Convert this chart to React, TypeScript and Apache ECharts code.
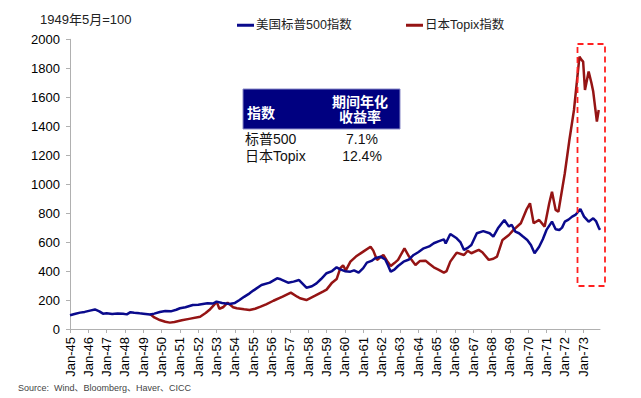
import React, { useEffect, useRef } from "react";
import * as echarts from "echarts";

// US S&P 500 (May 1949 = 100)
const usX = [
  1945.0, 1945.3, 1945.55, 1945.8, 1946.09, 1946.36, 1946.6, 1946.8, 1947.0, 1947.3, 1947.6, 1947.9,
  1948.1, 1948.3, 1948.5, 1948.8, 1949.0, 1949.37, 1949.6, 1949.9, 1950.2, 1950.5, 1950.8, 1951.0,
  1951.3, 1951.7, 1952.0, 1952.5, 1952.8, 1953.0, 1953.3, 1953.7, 1954.0, 1954.25, 1954.5, 1954.8,
  1955.0, 1955.45, 1955.9, 1956.3, 1956.5, 1956.9, 1957.2, 1957.5, 1957.9, 1958.2, 1958.45, 1958.7,
  1959.0, 1959.3, 1959.55, 1959.75, 1960.0, 1960.3, 1960.5, 1960.75, 1961.0, 1961.2, 1961.45, 1961.65,
  1961.95, 1962.2, 1962.35, 1962.5, 1962.7, 1962.9, 1963.2, 1963.5, 1963.75, 1964.0, 1964.3, 1964.6,
  1964.85, 1965.1, 1965.4, 1965.5, 1965.75, 1966.1, 1966.3, 1966.5, 1966.7, 1966.9, 1967.2, 1967.55,
  1967.9, 1968.1, 1968.35, 1968.7, 1968.95, 1969.1, 1969.3, 1969.5, 1969.7, 1969.95, 1970.15, 1970.35,
  1970.6, 1970.8, 1971.0, 1971.3, 1971.5, 1971.7, 1971.85, 1972.0, 1972.2, 1972.4, 1972.6, 1972.85,
  1973.05, 1973.3, 1973.55, 1973.7, 1973.85, 1973.92,
];
const usY = [
  95, 105, 113, 118, 127, 135, 122, 106, 108, 104, 107, 105,
  101, 116, 112, 108, 106, 100, 106, 117, 124, 122, 133, 143,
  150, 166, 168, 177, 176, 189, 180, 173, 180, 200, 222, 246,
  265, 304, 320, 350, 343, 320, 327, 338, 285, 295, 315, 345,
  385, 400, 426, 412, 399, 396, 405, 389, 420, 458, 470, 488,
  500, 480, 440, 396, 410, 435, 465, 480, 511, 530, 557, 570,
  592, 605, 619, 590, 656, 626, 600, 546, 560, 580, 661, 676,
  661, 638, 695, 753, 707, 720, 672, 661, 640, 615, 580, 523,
  568, 620, 684, 741, 689, 684, 700, 741, 755, 776, 790, 829,
  776, 741, 764, 745, 700, 684,
];

// Japan Topix (May 1949 = 100)
const jpX = [
  1949.37, 1949.6, 1949.9, 1950.2, 1950.45, 1950.7, 1951.1, 1951.5, 1952.1, 1952.4, 1952.6, 1952.85,
  1953.0, 1953.15, 1953.35, 1953.6, 1953.9, 1954.1, 1954.5, 1954.8, 1955.1, 1955.4, 1955.7, 1956.1,
  1956.6, 1957.05, 1957.4, 1957.55, 1957.9, 1958.35, 1958.8, 1959.0, 1959.3, 1959.55, 1959.75, 1959.9,
  1960.05, 1960.3, 1960.6, 1961.0, 1961.4, 1961.55, 1961.75, 1962.1, 1962.3, 1962.5, 1962.7, 1962.9,
  1963.25, 1963.5, 1963.85, 1964.1, 1964.4, 1964.6, 1964.85, 1965.1, 1965.4, 1965.55, 1965.75, 1966.1,
  1966.5, 1966.7, 1966.9, 1967.3, 1967.5, 1967.85, 1968.1, 1968.3, 1968.6, 1968.95, 1969.2, 1969.6,
  1969.9, 1970.1, 1970.3, 1970.6, 1970.9, 1971.15, 1971.3, 1971.5, 1971.65, 1972.0, 1972.25, 1972.5,
  1972.65, 1972.8, 1972.9, 1973.0, 1973.1, 1973.3, 1973.45, 1973.55, 1973.75, 1973.85,
];
const jpY = [
  103, 80, 62, 50, 44, 48, 60, 70, 85, 110, 131, 165,
  189, 140, 150, 182, 150, 143, 136, 131, 140, 154, 170, 195,
  223, 251, 223, 212, 200, 228, 258, 272, 320, 345, 420, 440,
  405, 465, 500, 534, 568, 541, 477, 511, 470, 435, 455, 477,
  557, 500, 442, 470, 472, 450, 426, 410, 389, 400, 465, 527,
  511, 540, 523, 546, 530, 477, 485, 500, 615, 649, 684, 730,
  822, 868, 730, 753, 707, 868, 948, 822, 810, 1075, 1305, 1512,
  1697, 1881, 1860, 1846, 1650, 1777, 1700, 1639, 1432, 1512,
];

const yTicks = { min: 0, max: 2000, interval: 200 };
const xRange = { min: 1945, max: 1973.92 };

const seriesNames = ["美国标普500指数", "日本Topix指数"];
const tableHeader = ["指数", "期间年化", "收益率"];
const tableRows = [
  ["标普500", "7.1%"],
  ["日本Topix", "12.4%"],
];

const FONT = "'Liberation Sans', Arial, 'Noto Sans CJK SC', sans-serif";

export default function App() {
  const ref = useRef<HTMLDivElement>(null);
  useEffect(() => {
    document.body.style.margin = "0";
    const chart = echarts.init(ref.current!, null, { renderer: "svg" });
    const blue = "#0a0a8c";
    const red = "#951414";
    chart.setOption({
      animation: false,
      backgroundColor: "#ffffff",
      textStyle: { fontFamily: FONT },
      grid: { left: 70, right: 41, top: 39.3, bottom: 69, containLabel: false },
      legend: [
        {
          data: [seriesNames[0]],
          left: 232,
          top: 14,
          icon: "rect",
          itemWidth: 17,
          itemHeight: 3,
          textStyle: { fontSize: 12.5, color: "#222", fontFamily: FONT, padding: [0, 0, 0, -3] },
        },
        {
          data: [seriesNames[1]],
          left: 401,
          top: 14,
          icon: "rect",
          itemWidth: 17,
          itemHeight: 3,
          textStyle: { fontSize: 12.5, color: "#222", fontFamily: FONT, padding: [0, 0, 0, -3] },
        },
      ],
      xAxis: {
        type: "value",
        min: xRange.min,
        max: xRange.max,
        interval: 1,
        axisLine: { show: true, lineStyle: { color: "#b0b0b0", width: 1 } },
        axisTick: { show: true, length: 4, lineStyle: { color: "#b0b0b0" } },
        splitLine: { show: false },
        axisLabel: {
          rotate: 90,
          margin: 8,
          fontSize: 13,
          color: "#000",
          fontFamily: FONT,
          showMaxLabel: false,
          formatter: (v: number) => "Jan-" + String(Math.round(v)).slice(2),
        },
      },
      yAxis: {
        type: "value",
        min: yTicks.min,
        max: yTicks.max,
        interval: yTicks.interval,
        axisLine: { show: true, lineStyle: { color: "#b0b0b0", width: 1 } },
        axisTick: { show: true, length: 4, lineStyle: { color: "#b0b0b0" } },
        splitLine: { show: false },
        axisLabel: {
          fontSize: 13,
          color: "#000",
          margin: 10,
          fontFamily: FONT,
          formatter: (v: number) => String(v),
        },
      },
      series: [
        {
          name: seriesNames[0],
          type: "line",
          data: usX.map((x, i) => [x, usY[i]]),
          showSymbol: false,
          color: blue,
          lineStyle: { color: blue, width: 2.5 },
          z: 3,
        },
        {
          name: seriesNames[1],
          type: "line",
          data: jpX.map((x, i) => [x, jpY[i]]),
          showSymbol: false,
          color: red,
          lineStyle: { color: red, width: 2.5 },
          z: 2,
        },
      ],
      graphic: [
        {
          type: "text",
          left: 40,
          top: 13,
          style: { text: "1949年5月=100", fontSize: 13, fill: "#222", fontFamily: FONT },
        },
        {
          type: "rect",
          shape: { x: 243, y: 89, width: 157, height: 40 },
          style: { fill: "#000080", stroke: "#8a8ac8", lineWidth: 1 },
        },
        {
          type: "text",
          x: 247,
          y: 113,
          style: {
            text: tableHeader[0],
            fontSize: 14,
            fontWeight: "bold",
            fill: "#fff",
            fontFamily: FONT,
            verticalAlign: "middle",
            textAlign: "left",
          },
        },
        {
          type: "text",
          x: 360,
          y: 101.5,
          style: {
            text: tableHeader[1],
            fontSize: 14,
            fontWeight: "bold",
            fill: "#fff",
            fontFamily: FONT,
            verticalAlign: "middle",
            textAlign: "center",
          },
        },
        {
          type: "text",
          x: 360,
          y: 117,
          style: {
            text: tableHeader[2],
            fontSize: 14,
            fontWeight: "bold",
            fill: "#fff",
            fontFamily: FONT,
            verticalAlign: "middle",
            textAlign: "center",
          },
        },
        ...tableRows.flatMap((row, i) => [
          {
            type: "text",
            x: 245,
            y: 138.5 + i * 17,
            style: {
              text: row[0],
              fontSize: 14,
              fill: "#111",
              fontFamily: FONT,
              verticalAlign: "middle",
              textAlign: "left",
            },
          },
          {
            type: "text",
            x: 362,
            y: 138.5 + i * 17,
            style: {
              text: row[1],
              fontSize: 14,
              fill: "#111",
              fontFamily: FONT,
              verticalAlign: "middle",
              textAlign: "center",
            },
          },
        ]),
        {
          type: "rect",
          shape: { x: 577.5, y: 44, width: 27.5, height: 242 },
          style: { fill: "none", stroke: "#ff2020", lineWidth: 1.8, lineDash: [6, 4] },
          z: 10,
        },
        {
          type: "text",
          left: 18,
          top: 383,
          style: {
            text: "Source:  Wind、Bloomberg、Haver、CICC",
            fontSize: 9,
            fill: "#444",
            fontFamily: FONT,
          },
        },
      ],
    });
    return () => chart.dispose();
  }, []);
  return (
    <div
      ref={ref}
      style={{ width: 641, height: 398, position: "absolute", left: 0, top: 0 }}
    />
  );
}
